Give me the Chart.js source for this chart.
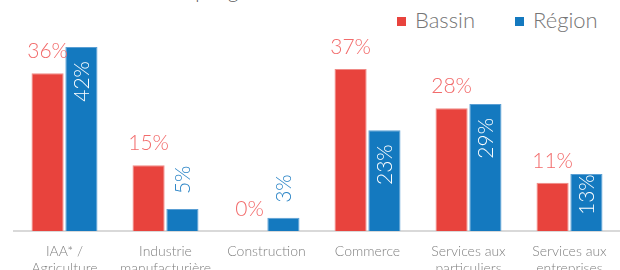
<!DOCTYPE html>
<html>
<head>
<meta charset="utf-8">
<script src="https://cdn.jsdelivr.net/npm/chart.js@4"></script>
<style>
  html, body { margin: 0; padding: 0; background: #fff; }
  body { width: 620px; height: 270px; overflow: hidden; position: relative; font-family: Lato, sans-serif; }
  #titre { position: absolute; left: 125px; top: -19px; font: 300 20px/20px Lato, sans-serif; color: #595959; white-space: nowrap; }
  #legende { position: absolute; left: 397px; top: 6px; display: flex; font: 300 22px Lato, sans-serif; color: #757575; }
  #legende .item { display: flex; align-items: center; margin-right: 40px; }
  #legende .box { width: 9px; height: 9px; margin-right: 9px; margin-top: 3px; }
  #graph { position: absolute; left: 0; top: 0; }
</style>
</head>
<body>
<div id="titre">Salariés par grand secteur d'activité</div>
<div id="legende"></div>
<canvas id="graph" width="620" height="291"></canvas>
<script>
const secteurs = [['IAA* /', 'Agriculture'], ['Industrie', 'manufacturière'], 'Construction', 'Commerce', ['Services aux', 'particuliers'], ['Services aux', 'entreprises']];
const bassin = [36, 15, 0, 37, 28, 11];
const region = [42, 5, 3, 23, 29, 13];

const rouge = '#E8433D';
const bleu = '#1479BF';

// etiquettes de valeur : rouge au-dessus, bleu en vertical
const etiquettes = {
  id: 'etiquettes',
  afterDatasetsDraw(chart) {
    const ctx = chart.ctx;
    ctx.save();
    ctx.font = '300 21px Lato';
    chart.data.datasets.forEach((ds, i) => {
      chart.getDatasetMeta(i).data.forEach((barre, j) => {
        const texte = ds.data[j] + '%';
        if (i === 0) {
          ctx.fillStyle = '#F26B6B';
          ctx.textAlign = 'center';
          ctx.textBaseline = 'alphabetic';
          ctx.fillText(texte, barre.x, barre.y - 15);
          return;
        }
        const long = ctx.measureText(texte).width;
        const h = barre.base - barre.y;
        const marge = h - long - 16;
        ctx.save();
        ctx.textBaseline = 'middle';
        if (marge >= 0) {
          ctx.translate(barre.x + 1, barre.y + Math.min(14, marge));
          ctx.rotate(-Math.PI / 2);
          ctx.textAlign = 'right';
          ctx.fillStyle = '#ffffff';
        } else {
          ctx.translate(barre.x + 1, barre.y - 15);
          ctx.rotate(-Math.PI / 2);
          ctx.textAlign = 'left';
          ctx.fillStyle = '#2A84C6';
        }
        ctx.fillText(texte, 0, 0);
        ctx.restore();
      });
    });
    ctx.restore();
  }
};

const chart = new Chart(document.getElementById('graph'), {
  type: 'bar',
  data: {
    labels: secteurs,
    datasets: [
      { label: 'Bassin', data: bassin, backgroundColor: rouge, borderColor: '#F08A86', borderWidth: 1 },
      { label: 'Région', data: region, backgroundColor: bleu, borderColor: '#5A9FD4', borderWidth: 1 }
    ]
  },
  options: {
    responsive: false,
    devicePixelRatio: 1,
    animation: false,
    categoryPercentage: 0.67,
    barPercentage: 0.95,
    layout: { padding: { top: 12, left: 14, right: 0, bottom: 0 } },
    plugins: { legend: { display: false }, tooltip: { enabled: false } },
    scales: {
      x: {
        grid: { display: false },
        border: { display: true, color: '#D9D9D9', width: 2 },
        ticks: { color: '#808080', font: { family: 'Lato', size: 14, weight: 300, lineHeight: 1.2 }, padding: 4, maxRotation: 0 },
        afterFit: s => { s.height = 60; }
      },
      y: { display: false, min: 0, max: 50 }
    }
  },
  plugins: [etiquettes]
});

// legende construite depuis les series
const legende = document.getElementById('legende');
chart.data.datasets.forEach(ds => {
  const item = document.createElement('div');
  item.className = 'item';
  const box = document.createElement('span');
  box.className = 'box';
  box.style.background = ds.backgroundColor;
  item.appendChild(box);
  item.appendChild(document.createTextNode(ds.label));
  legende.appendChild(item);
});
</script>
</body>
</html>
